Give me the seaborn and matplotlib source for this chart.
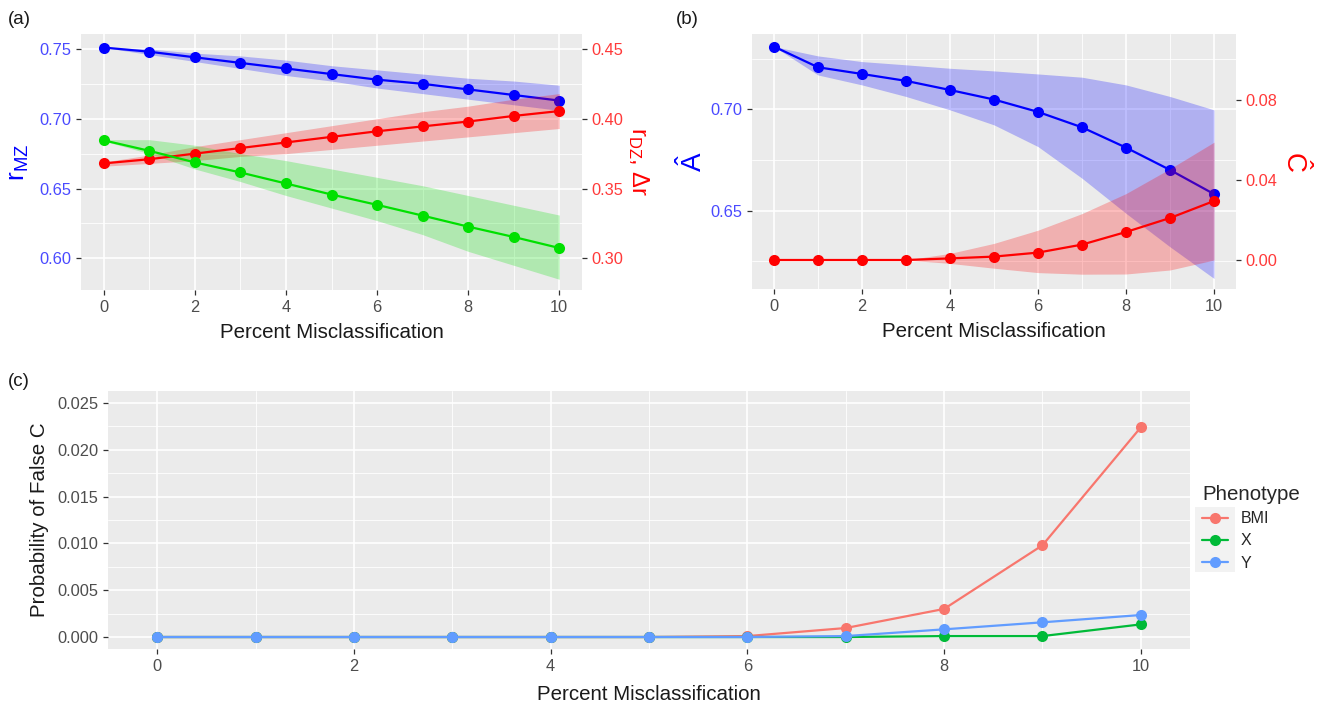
import numpy as np
import pandas as pd
import matplotlib
matplotlib.use("Agg")
import matplotlib.pyplot as plt
from matplotlib.patches import Rectangle
from matplotlib.ticker import MultipleLocator
import seaborn as sns

# ----------------------------------------------------------
# Data
# ----------------------------------------------------------

pct = [0, 1, 2, 3, 4, 5, 6, 7, 8, 9, 10]

# panel (a) : left axis
r_mz = [0.751, 0.748, 0.744, 0.740, 0.736, 0.732, 0.728, 0.725, 0.721, 0.717, 0.713]
r_mz_lo = [0.751, 0.746, 0.741, 0.736, 0.731, 0.727, 0.722, 0.718, 0.714, 0.710, 0.706]
r_mz_hi = [0.751, 0.750, 0.747, 0.745, 0.742, 0.738, 0.735, 0.732, 0.729, 0.727, 0.724]

# panel (a) : right axis
r_dz = [0.368, 0.371, 0.375, 0.379, 0.383, 0.387, 0.391, 0.3945, 0.398, 0.402, 0.4055]
r_dz_lo = [0.366, 0.368, 0.370, 0.373, 0.375, 0.378, 0.381, 0.384, 0.387, 0.390, 0.393]
r_dz_hi = [0.369, 0.374, 0.380, 0.385, 0.390, 0.395, 0.400, 0.405, 0.409, 0.414, 0.418]

delta_r = [0.3845, 0.377, 0.3687, 0.3615, 0.3536, 0.3457, 0.3383, 0.3306, 0.3227, 0.3153, 0.3074]
delta_lo = [0.384, 0.375, 0.364, 0.355, 0.345, 0.336, 0.327, 0.317, 0.305, 0.295, 0.285]
delta_hi = [0.385, 0.385, 0.381, 0.375, 0.370, 0.364, 0.358, 0.352, 0.345, 0.338, 0.331]

# panel (b)
a_hat = [0.7309, 0.7207, 0.7174, 0.7140, 0.7095, 0.7048, 0.6987, 0.6911, 0.6811, 0.6701, 0.6582]
a_lo = [0.7309, 0.7169, 0.7120, 0.7063, 0.6997, 0.6923, 0.6816, 0.6660, 0.6487, 0.6322, 0.6166]
a_hi = [0.7309, 0.7263, 0.7235, 0.7219, 0.7202, 0.7189, 0.7174, 0.7158, 0.7120, 0.7063, 0.6997]

c_hat = [0.0, 0.0, 0.0, 0.0, 0.0008, 0.0017, 0.0037, 0.0077, 0.0140, 0.0210, 0.0295]
c_lo = [0.0, 0.0, 0.0, 0.0, -0.0017, -0.0041, -0.0063, -0.0071, -0.0070, -0.0050, 0.0]
c_hi = [0.0, 0.0, 0.0, 0.0, 0.0033, 0.0083, 0.0149, 0.0232, 0.0332, 0.0456, 0.0589]

# panel (c)
phenotypes = ["BMI", "X", "Y"]
p_bmi = [0.0, 0.0, 0.0, 0.0, 0.0, 0.0, 0.0001, 0.00096, 0.0030, 0.0098, 0.0224]
p_x = [0.0, 0.0, 0.0, 0.0, 0.0, 0.0, 0.0, 0.0, 0.0001, 0.0001, 0.00135]
p_y = [0.0, 0.0, 0.0, 0.0, 0.0, 0.0, 0.0, 0.0001, 0.00082, 0.00157, 0.00235]
pheno_colors = ["#F8766D", "#00BA38", "#619CFF"]

# ----------------------------------------------------------
# Style
# ----------------------------------------------------------

sns.set_theme(style="darkgrid", rc={
    "axes.facecolor": "#EBEBEB",
    "grid.color": "white",
    "xtick.bottom": True,
    "ytick.left": True,
    "xtick.major.size": 3.5,
    "ytick.major.size": 3.5,
    "xtick.major.width": 0.9,
    "ytick.major.width": 0.9,
    "xtick.color": "#333333",
    "ytick.color": "#333333",
})
plt.rcParams["font.family"] = ["Liberation Sans", "DejaVu Sans"]
plt.rcParams["mathtext.fontset"] = "custom"
plt.rcParams["mathtext.rm"] = "Liberation Sans"
plt.rcParams["mathtext.it"] = "Liberation Sans:italic"
plt.rcParams["mathtext.bf"] = "Liberation Sans:bold"

BLUE_TXT = "#4A4AFF"
RED_TXT = "#FF3A3A"
TICK_FS = 11.8
TITLE_FS = 14.8

fig = plt.figure(figsize=(13.26, 7.05), dpi=100)
W, H = 1326, 705


def px_axes(x0, x1, y0, y1):
    return fig.add_axes([x0 / W, (H - y1) / H, (x1 - x0) / W, (y1 - y0) / H])


def gg_grid(ax, xminor=1, yminor=None):
    ax.xaxis.set_minor_locator(MultipleLocator(xminor))
    if yminor is not None:
        ax.yaxis.set_minor_locator(MultipleLocator(yminor))
    ax.grid(which="major", color="white", linewidth=1.2)
    ax.grid(which="minor", color="white", linewidth=0.6)
    ax.tick_params(which="minor", length=0)
    for s in ax.spines.values():
        s.set_visible(False)


# ----------------------------------------------------------
# Panel (a)
# ----------------------------------------------------------

ax_a = px_axes(81, 582, 34, 290)
ax_a2 = ax_a.twinx()

ax_a.fill_between(pct, r_mz_lo, r_mz_hi, color="blue", alpha=0.25, linewidth=0)
sns.lineplot(x=pct, y=r_mz, ax=ax_a, color="blue", marker="o",
             markersize=8, markeredgewidth=0, linewidth=1.6)

ax_a2.fill_between(pct, r_dz_lo, r_dz_hi, color="red", alpha=0.25, linewidth=0)
ax_a2.fill_between(pct, delta_lo, delta_hi, color="#00E000", alpha=0.25, linewidth=0)
sns.lineplot(x=pct, y=r_dz, ax=ax_a2, color="red", marker="o",
             markersize=8, markeredgewidth=0, linewidth=1.6)
sns.lineplot(x=pct, y=delta_r, ax=ax_a2, color="#00E000", marker="o",
             markersize=8, markeredgewidth=0, linewidth=1.6)

ax_a.set_xlim(-0.5, 10.5)
ax_a.set_ylim(0.5773, 0.7607)
ax_a2.set_ylim(0.2773, 0.4607)
ax_a.set_xticks([0, 2, 4, 6, 8, 10])
ax_a.set_yticks([0.60, 0.65, 0.70, 0.75])
ax_a2.set_yticks([0.30, 0.35, 0.40, 0.45])
ax_a.yaxis.set_major_formatter(plt.FormatStrFormatter("%.2f"))
ax_a2.yaxis.set_major_formatter(plt.FormatStrFormatter("%.2f"))
gg_grid(ax_a, 1, 0.025)
ax_a2.grid(False)
for s in ax_a2.spines.values():
    s.set_visible(False)
ax_a.tick_params(axis="x", labelsize=TICK_FS, labelcolor="#4D4D4D")
ax_a.tick_params(axis="y", labelsize=TICK_FS, labelcolor=BLUE_TXT)
ax_a2.tick_params(axis="y", right=True, length=3.5, width=0.9, labelsize=TICK_FS,
                  labelcolor=RED_TXT, color="#333333")
ax_a.set_xlabel("Percent Misclassification", fontsize=TITLE_FS,
                color="#1A1A1A", labelpad=6)
ax_a.set_ylabel(r"$\mathrm{r}_{\mathrm{MZ}}$", fontsize=19, color="blue", labelpad=6)
ax_a2.set_ylabel(r"$\mathrm{r}_{\mathrm{DZ}}$, Δr", fontsize=17, color="red",
                 rotation=270, labelpad=20)

# ----------------------------------------------------------
# Panel (b)
# ----------------------------------------------------------

ax_b = px_axes(752, 1236, 34, 289)
ax_b2 = ax_b.twinx()

ax_b.fill_between(pct, a_lo, a_hi, color="blue", alpha=0.25, linewidth=0)
sns.lineplot(x=pct, y=a_hat, ax=ax_b, color="blue", marker="o",
             markersize=8, markeredgewidth=0, linewidth=1.6)

ax_b2.fill_between(pct, c_lo, c_hi, color="red", alpha=0.25, linewidth=0)
sns.lineplot(x=pct, y=c_hat, ax=ax_b2, color="red", marker="o",
             markersize=8, markeredgewidth=0, linewidth=1.6)

ax_b.set_xlim(-0.5, 10.5)
ax_b.set_ylim(0.6114, 0.7371)
ax_b2.set_ylim(-0.0145, 0.1130)
ax_b.set_xticks([0, 2, 4, 6, 8, 10])
ax_b.set_yticks([0.65, 0.70])
ax_b2.set_yticks([0.00, 0.04, 0.08])
ax_b.yaxis.set_major_formatter(plt.FormatStrFormatter("%.2f"))
ax_b2.yaxis.set_major_formatter(plt.FormatStrFormatter("%.2f"))
gg_grid(ax_b, 1, 0.025)
ax_b2.grid(False)
for s in ax_b2.spines.values():
    s.set_visible(False)
ax_b.tick_params(axis="x", labelsize=TICK_FS, labelcolor="#4D4D4D")
ax_b.tick_params(axis="y", labelsize=TICK_FS, labelcolor=BLUE_TXT)
ax_b2.tick_params(axis="y", right=True, length=3.5, width=0.9, labelsize=TICK_FS,
                  labelcolor=RED_TXT, color="#333333")
ax_b.set_xlabel("Percent Misclassification", fontsize=TITLE_FS,
                color="#1A1A1A", labelpad=6)
ax_b.set_ylabel(r"$\hat{\mathrm{A}}$", fontsize=20, color="blue", labelpad=2)
ax_b2.set_ylabel(r"$\hat{\mathrm{C}}$", fontsize=20, color="red",
                 rotation=270, labelpad=24)

# ----------------------------------------------------------
# Panel (c)
# ----------------------------------------------------------

ax_c = px_axes(108, 1190, 391, 649)

df_c = pd.DataFrame({
    "pct": pct * 3,
    "prob": p_bmi + p_x + p_y,
    "Phenotype": [p for p in phenotypes for _ in pct],
})

sns.lineplot(data=df_c, x="pct", y="prob", hue="Phenotype",
             palette=pheno_colors, marker="o", markersize=8,
             markeredgewidth=0, linewidth=1.6, ax=ax_c)

ax_c.set_xlim(-0.5, 10.5)
ax_c.set_ylim(-0.00128, 0.02628)
ax_c.set_xticks([0, 2, 4, 6, 8, 10])
ax_c.set_yticks([0.000, 0.005, 0.010, 0.015, 0.020, 0.025])
ax_c.yaxis.set_major_formatter(plt.FormatStrFormatter("%.3f"))
gg_grid(ax_c, 1, 0.0025)
ax_c.tick_params(axis="both", labelsize=TICK_FS, labelcolor="#4D4D4D")
ax_c.set_xlabel("Percent Misclassification", fontsize=TITLE_FS,
                color="#1A1A1A", labelpad=8)
ax_c.set_ylabel("Probability of False C", fontsize=TITLE_FS,
                color="#1A1A1A", labelpad=6)

leg = ax_c.legend(title="Phenotype", loc="center left",
                  bbox_to_anchor=(0.998, 0.47), frameon=False,
                  fontsize=11.5, title_fontsize=TITLE_FS,
                  handlelength=1.6, labelspacing=0.45)
leg._legend_box.align = "left"

# gray key background like ggplot legends
fig.canvas.draw()
boxes = [h.get_window_extent() for h in leg.legend_handles]
kx0 = min(b.x0 for b in boxes) - 2
kx1 = max(b.x1 for b in boxes) + 2
ky0 = min(b.y0 for b in boxes) - 5
ky1 = max(b.y1 for b in boxes) + 5
fig.patches.append(Rectangle((kx0 / W, ky0 / H), (kx1 - kx0) / W, (ky1 - ky0) / H,
                             transform=fig.transFigure, facecolor="#F2F2F2",
                             edgecolor="none", zorder=-1))

# ----------------------------------------------------------
# Panel tags
# ----------------------------------------------------------

fig.text(8 / W, 1 - 20 / H, "(a)", fontsize=13.5, color="#1A1A1A", va="center")
fig.text(676 / W, 1 - 20 / H, "(b)", fontsize=13.5, color="#1A1A1A", va="center")
fig.text(8 / W, 1 - 381 / H, "(c)", fontsize=13.5, color="#1A1A1A", va="center")

fig.savefig("out.png", dpi=100)
plt.close(fig)
